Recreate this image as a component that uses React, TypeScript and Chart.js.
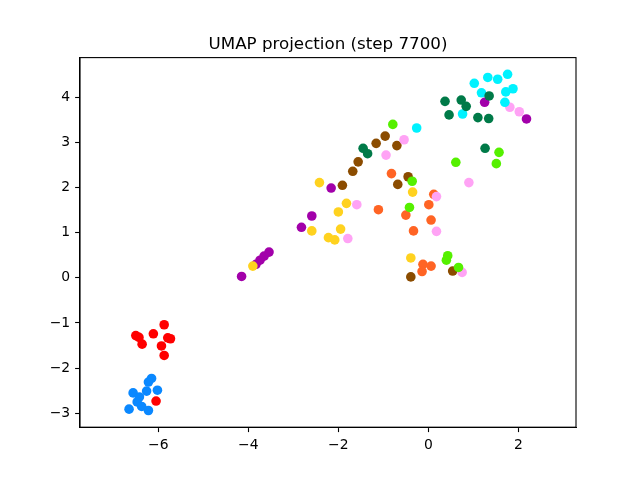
import React, { useEffect, useRef } from "react";
import { Chart, registerables } from "chart.js";

Chart.register(...registerables);

const TITLE = "UMAP projection (step 7700)";
const X_MIN = -7.74;
const X_MAX = 3.28;
const Y_MIN = -3.31;
const Y_MAX = 4.88;
const xTicks = [-6, -4, -2, 0, 2];
const yTicks = [-3, -2, -1, 0, 1, 2, 3, 4];

const redX = [-5.87, -6.11, -6.5, -6.43, -6.36, -5.79, -5.73, -5.93, -5.87, -6.05];
const redY = [-1.04, -1.24, -1.28, -1.32, -1.47, -1.33, -1.35, -1.51, -1.72, -2.73];
const blueX = [-6.15, -6.22, -6.56, -6.26, -6.02, -6.42, -6.47, -6.37, -6.65, -6.22];
const blueY = [-2.23, -2.31, -2.55, -2.51, -2.49, -2.64, -2.75, -2.85, -2.91, -2.94];
const yellowX = [-2.42, -0.35, -1.82, -2.0, -1.95, -2.22, -2.08, -2.59, -3.9, -0.39];
const yellowY = [2.11, 1.9, 1.65, 1.46, 1.08, 0.89, 0.84, 1.04, 0.26, 0.44];
const limeX = [-0.79, 0.61, 1.57, 1.51, -0.36, -0.42, 0.43, 0.4, 0.67];
const limeY = [3.4, 2.56, 2.78, 2.53, 2.14, 1.56, 0.49, 0.39, 0.23];
const greenX = [0.37, 0.73, 0.84, 0.46, 1.1, 1.34, 1.35, 1.26, -1.45, -1.35];
const greenY = [3.91, 3.94, 3.8, 3.61, 3.55, 3.53, 4.03, 2.87, 2.87, 2.75];
const cyanX = [1.02, 1.32, 1.54, 1.76, 1.18, 1.72, 1.88, 1.7, 0.76, -0.26];
const cyanY = [4.31, 4.44, 4.4, 4.51, 4.1, 4.12, 4.19, 3.89, 3.63, 3.32];
const pinkX = [1.81, 2.02, -0.54, -0.94, 0.9, 0.18, -1.59, 0.18, -1.79, 0.75];
const pinkY = [3.78, 3.68, 3.06, 2.72, 2.11, 1.8, 1.62, 1.03, 0.87, 0.12];
const orangeX = [-0.82, 0.12, 0.01, -1.11, -0.5, 0.06, -0.33, -0.12, 0.06, -0.14];
const orangeY = [2.31, 1.85, 1.62, 1.51, 1.39, 1.28, 1.04, 0.3, 0.26, 0.14];
const brownX = [-0.96, -0.7, -1.16, -1.56, -1.68, -1.91, -0.45, -0.68, -0.39, 0.54];
const brownY = [3.14, 2.93, 2.98, 2.57, 2.36, 2.05, 2.24, 2.07, 0.02, 0.15];
const purpleX = [1.25, 2.18, -2.16, -2.59, -2.82, -3.54, -3.65, -3.74, -3.83, -4.15];
const purpleY = [3.89, 3.52, 1.99, 1.37, 1.12, 0.57, 0.48, 0.39, 0.3, 0.03];

const groups = [
  { name: "red", xs: redX, ys: redY, color: "#ff0000" },
  { name: "blue", xs: blueX, ys: blueY, color: "#0a88ff" },
  { name: "yellow", xs: yellowX, ys: yellowY, color: "#ffd21f" },
  { name: "lime", xs: limeX, ys: limeY, color: "#55f000" },
  { name: "green", xs: greenX, ys: greenY, color: "#007a48" },
  { name: "cyan", xs: cyanX, ys: cyanY, color: "#00f2ff" },
  { name: "pink", xs: pinkX, ys: pinkY, color: "#ffa3f5" },
  { name: "orange", xs: orangeX, ys: orangeY, color: "#ff6424" },
  { name: "brown", xs: brownX, ys: brownY, color: "#8b4c00" },
  { name: "purple", xs: purpleX, ys: purpleY, color: "#a200aa" },
];

const fmt = (v: number) => (v < 0 ? "\u2212" + Math.abs(v) : String(v));

const framePlugin = {
  id: "frame",
  afterDraw(chart: any) {
    const { ctx, chartArea } = chart;
    ctx.save();
    ctx.strokeStyle = "#000";
    ctx.lineWidth = 1.1;
    ctx.strokeRect(chartArea.left, chartArea.top, chartArea.right - chartArea.left, chartArea.bottom - chartArea.top);
    ctx.fillStyle = "#000";
    ctx.font = "16.7px 'DejaVu Sans'";
    ctx.textAlign = "center";
    ctx.textBaseline = "alphabetic";
    ctx.fillText(TITLE, (chartArea.left + chartArea.right) / 2, chartArea.top - 8.3);
    ctx.restore();
  },
};

export default function App() {
  const ref = useRef<HTMLCanvasElement>(null);
  useEffect(() => {
    const prevMargin = document.body.style.margin;
    document.body.style.margin = "0";
    const chart = new Chart(ref.current!, {
      type: "scatter",
      data: {
        datasets: groups.map((g) => ({
          label: g.name,
          data: g.xs.map((x, i) => ({ x, y: g.ys[i] })),
          backgroundColor: g.color,
          borderColor: g.color,
          borderWidth: 0,
          pointRadius: 4.8,
          pointHoverRadius: 4.8,
        })),
      },
      options: {
        responsive: false,
        animation: false,
        layout: { padding: { top: 57.6, right: 64, left: 0, bottom: 0 } },
        plugins: { legend: { display: false }, tooltip: { enabled: false }, title: { display: false } },
        scales: {
          x: {
            type: "linear",
            min: X_MIN,
            max: X_MAX,
            afterBuildTicks: (s: any) => {
              s.ticks = xTicks.map((v) => ({ value: v }));
            },
            afterFit: (s: any) => {
              s.height = 480 - 427.2;
            },
            grid: { drawOnChartArea: false, tickLength: 4.9, color: "#000", tickWidth: 1.1 },
            border: { display: true, color: "#000", width: 1.1 },
            ticks: {
              color: "#000",
              padding: 4.9,
              maxRotation: 0,
              font: { family: "'DejaVu Sans'", size: 13.9 },
              callback: (v: any) => fmt(Number(v)),
            },
          },
          y: {
            type: "linear",
            min: Y_MIN,
            max: Y_MAX,
            afterBuildTicks: (s: any) => {
              s.ticks = yTicks.map((v) => ({ value: v }));
            },
            afterFit: (s: any) => {
              s.width = 80;
            },
            grid: { drawOnChartArea: false, tickLength: 4.9, color: "#000", tickWidth: 1.1 },
            border: { display: true, color: "#000", width: 1.1 },
            ticks: {
              color: "#000",
              padding: 4.9,
              font: { family: "'DejaVu Sans'", size: 13.9 },
              callback: (v: any) => fmt(Number(v)),
            },
          },
        },
      },
      plugins: [framePlugin],
    });
    return () => {
      chart.destroy();
      document.body.style.margin = prevMargin;
    };
  }, []);
  return (
    <div style={{ width: 640, height: 480, background: "#fff" }}>
      <canvas ref={ref} width={640} height={480} />
    </div>
  );
}
